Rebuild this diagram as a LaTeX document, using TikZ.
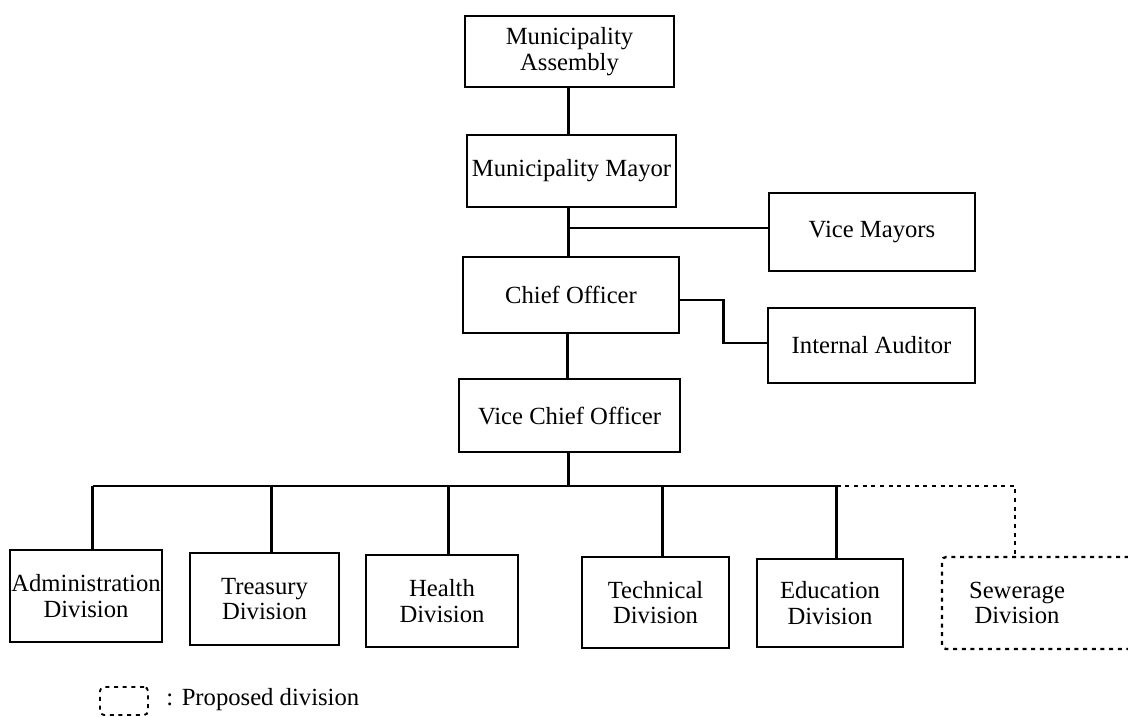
\documentclass[tikz,border=0pt]{standalone}
\usepackage{fontspec}
\setmainfont{Liberation Serif}
\begin{document}
\begin{tikzpicture}[x=0.75pt,y=-0.75pt,
  every node/.style={font=\fontsize{18.5}{19}\selectfont, align=center, inner sep=0pt},
  orgbox/.style={draw, line width=2.2pt},
  propbox/.style={draw, line width=1.7pt, dash pattern=on 3pt off 3.5pt, rounded corners=3pt},
  link/.style={line width=2.2pt},
  proplink/.style={line width=1.7pt, dash pattern=on 3pt off 3.5pt}]
\clip (0,0) rectangle (1128,717);
\fill[white] (0,0) rectangle (1128,717);
% boxes
\node[orgbox, minimum width=156.75pt, minimum height=53.25pt] (assembly) at (569.5,51.5) {Municipality\\Assembly};
\node[orgbox, minimum width=156.75pt, minimum height=54pt] (mayor) at (571.5,171) {Municipality Mayor};
\node[orgbox, minimum width=154.5pt, minimum height=58.5pt] (vicemayors) at (872,232) {Vice Mayors};
\node[orgbox, minimum width=162pt, minimum height=57pt] (chief) at (571,295) {Chief Officer};
\node[orgbox, minimum width=155.25pt, minimum height=56.25pt] (auditor) at (871.5,345.5) {Internal Auditor};
\node[orgbox, minimum width=165.75pt, minimum height=54.75pt] (vco) at (569.5,415.5) {Vice Chief Officer};
\node[orgbox, minimum width=114pt, minimum height=69pt] (admin) at (86,596) {Administration\\Division};
\node[orgbox, minimum width=111.75pt, minimum height=69pt] (treasury) at (264.5,599) {Treasury\\Division};
\node[orgbox, minimum width=114pt, minimum height=69pt] (health) at (442,601) {Health\\Division};
\node[orgbox, minimum width=110.25pt, minimum height=68.25pt] (technical) at (655.5,602.5) {Technical\\Division};
\node[orgbox, minimum width=109.5pt, minimum height=66pt] (education) at (830,603) {Education\\Division};
\node[propbox, minimum width=156pt, minimum height=69pt] (sewerage) at (1046,603) {};
\node (sewtext) at (1017,603) {Sewerage\\Division};
% connectors
\coordinate (j1) at (568,228);
\coordinate (bus) at (568,486);
\draw[link] ([xshift=-1pt]assembly.south) -- ([xshift=-1pt]assembly.south |- mayor.north);
\draw[link] ([xshift=-2.5pt]mayor.south) -- ([xshift=-2.5pt]mayor.south |- chief.north);
\draw[link] ([xshift=-2.5pt]mayor.south |- j1) -- (vicemayors.west |- j1);
\draw[link] ([yshift=-3.75pt]chief.east) -- ++(32.25pt,0) |- ([yshift=1.9pt]auditor.west);
\draw[link] ([xshift=-2.5pt]chief.south) -- ([xshift=-2.5pt]chief.south |- vco.north);
\draw[link] ([xshift=-1pt]vco.south) -- ([xshift=-1pt]vco.south |- bus);
\draw[link] ([xshift=5pt]admin.north |- bus) -- ([xshift=5pt]education.north |- bus);
\foreach \n in {admin,treasury,health,technical,education}
  \draw[link] ([xshift=5pt]\n.north |- bus) -- ([xshift=5pt]\n.north);
\draw[proplink] ([xshift=5pt]education.north |- bus) -- ([xshift=-23pt]sewerage.north |- bus) -- ([xshift=-23pt]sewerage.north);
% legend
\node[propbox, line width=1.4pt, minimum width=36pt, minimum height=21pt] (legend) at (124,701) {};
\node[anchor=west] (legendtext) at (166,700) {:\hspace{0.35em}Proposed division};
\end{tikzpicture}
\end{document}
